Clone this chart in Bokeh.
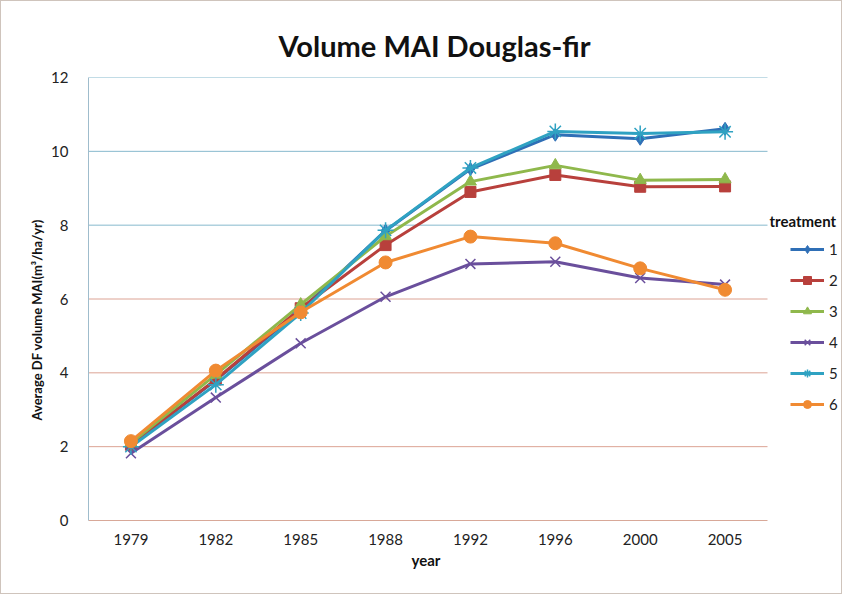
from bokeh.plotting import figure
from bokeh.models import FixedTicker, Range1d, Legend, LegendItem, Title, Label
from bokeh.embed import file_html
from bokeh.resources import INLINE

years = ["1979", "1982", "1985", "1988", "1992", "1996", "2000", "2005"]
t1 = [2.05, 3.80, 5.70, 7.85, 9.52, 10.45, 10.34, 10.61]
t2 = [2.05, 3.82, 5.75, 7.46, 8.90, 9.36, 9.04, 9.05]
t3 = [2.10, 3.95, 5.85, 7.70, 9.18, 9.62, 9.22, 9.24]
t4 = [1.82, 3.33, 4.80, 6.06, 6.95, 7.01, 6.57, 6.39]
t5 = [2.00, 3.68, 5.62, 7.86, 9.55, 10.54, 10.48, 10.53]
t6 = [2.15, 4.06, 5.64, 6.99, 7.69, 7.51, 6.83, 6.25]
series_names = ["1", "2", "3", "4", "5", "6"]
y_ticks = [0, 2, 4, 6, 8, 10, 12]
grid_low = [2, 4, 6]
grid_high = [8, 10, 12]

FONT = "Lato"
W, H = 842, 594
LEFT, TOP, BOTTOM = 87, 76, 75
PLOT_RIGHT = 766            # right edge of the visible plot area (px)
n = len(years)
frame_w = W - LEFT          # frame runs to the right edge (room for legend)
x_end = n * frame_w / (PLOT_RIGHT - LEFT)
xs = [i + 0.5 for i in range(n)]

p = figure(width=W, height=H, x_range=Range1d(0, x_end), y_range=Range1d(0, 12),
           output_backend="svg", toolbar_location=None,
           min_border_left=LEFT, min_border_right=0, min_border_top=TOP,
           min_border_bottom=BOTTOM)
p.background_fill_color = "white"
p.border_fill_color = "white"
p.outline_line_color = None
p.styles = {"border": "1px solid #cfc4bc"}
p.xgrid.visible = False
p.ygrid.visible = False

p.title = Title(text="Volume MAI Douglas-fir", align="left", offset=190,
                text_font=FONT, text_font_size="29px", text_font_style="bold",
                text_color="#111111", standoff=30)

# horizontal gridlines limited to the plot area
p.segment(x0=0, x1=n, y0=grid_low, y1=grid_low, line_color="#dca394", line_width=1)
p.segment(x0=0, x1=n, y0=grid_high, y1=grid_high, line_color="#86b9cd", line_width=1)

p.yaxis.ticker = FixedTicker(ticks=y_ticks)
p.xaxis.ticker = FixedTicker(ticks=xs)
p.xaxis.major_label_overrides = {x: y for x, y in zip(xs, years)}
p.xaxis.bounds = (0, n)
for ax in (p.xaxis[0], p.yaxis[0]):
    ax.major_tick_line_color = None
    ax.minor_tick_line_color = None
    ax.major_label_text_font = FONT
    ax.major_label_text_font_size = "15px"
    ax.major_label_text_color = "#222222"
p.yaxis.axis_line_color = "#9fbccc"
p.xaxis.axis_line_color = "#d8a898"
p.yaxis.major_label_standoff = 14
p.xaxis.major_label_standoff = 7

# axis titles as side titles so they sit where the reference has them
p.add_layout(Title(text="year", align="left", offset=323, text_font=FONT,
                   text_font_size="15px", text_font_style="bold",
                   text_color="#111111", standoff=2), "below")
p.add_layout(Title(text="Average DF volume MAI(m³/ha/yr)", align="left", offset=100,
                   text_font=FONT, text_font_size="13px", text_font_style="bold",
                   text_color="#111111", standoff=8), "left")

data = [t1, t2, t3, t4, t5, t6]
colors = ["#2f6fb6", "#b8403c", "#8fb84c", "#6a4f9c", "#2fa2c2", "#f08a32"]
markers = ["diamond", "square", "triangle", "x", "asterisk", "circle"]
sizes = [13, 11, 12, 14, 16, 13]

items = []
for name, vals, c, m, s in zip(series_names, data, colors, markers, sizes):
    ln = p.line(xs, vals, line_color=c, line_width=3)
    sc = p.scatter(xs, vals, marker=m, size=s, fill_color=c, line_color=c,
                   line_width=1.5 if m in ("x", "asterisk") else 1)
    items.append(LegendItem(label=name, renderers=[ln, sc]))

legend = Legend(items=items, location=(702, 106), orientation="vertical",
                label_text_font=FONT, label_text_font_size="15px",
                label_text_color="#222222", glyph_width=34, glyph_height=20,
                label_height=20, spacing=11, padding=0, margin=0,
                label_standoff=5, border_line_color=None,
                background_fill_alpha=0)
p.add_layout(legend, "center")

p.add_layout(Label(x=n, y=8.1, x_offset=2, text="treatment", text_font=FONT,
                   text_font_size="15px", text_font_style="bold",
                   text_color="#111111", text_baseline="middle"))

open("out.html", "w").write(file_html(p, INLINE))
